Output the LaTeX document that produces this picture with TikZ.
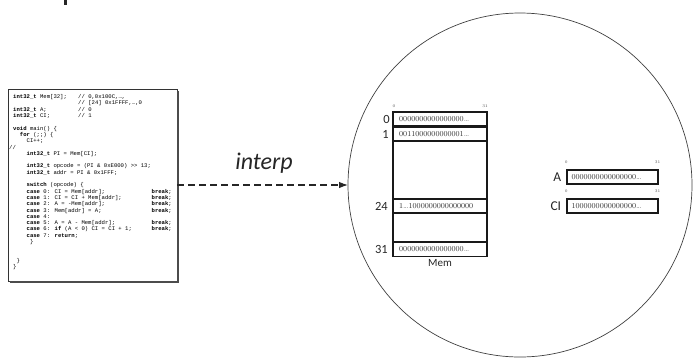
\documentclass[tikz,border=0pt]{standalone}
\usepackage{fontspec}
\newfontfamily\calib{Carlito}
\newfontfamily\codefont{Liberation Mono}
\usetikzlibrary{arrows.meta}
% listing helpers: keywords, comment column, break column
\newcommand\kw[1]{\textbf{#1}}
\newcommand\cm[2]{\makebox[65pt][l]{#1}#2}
\newcommand\bk[1]{\makebox[125pt][l]{#1}\kw{break};}
\begin{document}
\begin{tikzpicture}[x=1pt,y=-1pt,
  codeline/.style={anchor=base west, inner sep=0pt, text=black,
    font=\codefont\fontsize{5.6}{6.3}\selectfont},
  cell/.style={draw=black!90, line width=1.1pt, minimum width=94pt, inner sep=0pt, outer sep=0pt},
  reg/.style={draw=black!90, line width=1.4pt, minimum width=91pt, minimum height=14pt, inner sep=0pt},
  bits/.style={anchor=west, inner sep=0pt, text=black!80, font=\fontsize{7.6}{8}\selectfont},
  idx/.style={anchor=east, inner sep=0pt, text=black!85, font=\calib\fontsize{12.5}{13}\selectfont},
  tick/.style={inner sep=0pt, text=black!70, font=\fontsize{4}{4}\selectfont},
  flow/.style={dash pattern=on 7pt off 4pt, line width=1.1pt, -{Latex[length=9pt,width=6.5pt]}}
]
\useasboundingbox (0,0) rectangle (693,360);

% a fragment at the top edge
\fill[black!85] (63.5,0) rectangle (66.5,4.5);

% ---------- source listing ----------
\node[draw=black!80, line width=0.8pt, minimum width=169pt, minimum height=192pt,
      inner sep=0pt, outer sep=0pt] (codebox) at (92.5,185) {};
\draw[line width=1.4pt, black!70]
  ([shift={(1,2)}]codebox.north east) -- ([shift={(1,1)}]codebox.south east)
  -- ([shift={(2,1)}]codebox.south west);

\foreach \n/\t in {
  0/{\cm{\kw{int32\_t} Mem[32];}{// 0,0x100C,\ldots,}},
  1/{\cm{}{// [24] 0x1FFFF,\ldots,0}},
  2/{\cm{\kw{int32\_t} A;}{// 0}},
  3/{\cm{\kw{int32\_t} CI;}{// 1}},
  5/{\kw{void} main() \{},
  6/{~~\kw{for} (;;) \{},
  7/{~~~~CI++;},
  8/{\hspace*{-4pt}//},
  9/{~~~~\kw{int32\_t} PI = Mem[CI];},
  11/{~~~~\kw{int32\_t} opcode = (PI \& 0xE000) >> 13;},
  12/{~~~~\kw{int32\_t} addr = PI \& 0x1FFF;},
  14/{~~~~\kw{switch} (opcode) \{},
  15/{~~~~\bk{\kw{case} 0: CI = Mem[addr];}},
  16/{~~~~\bk{\kw{case} 1: CI = CI + Mem[addr];}},
  17/{~~~~\bk{\kw{case} 2: A = -Mem[addr];}},
  18/{~~~~\bk{\kw{case} 3: Mem[addr] = A;}},
  19/{~~~~\kw{case} 4:},
  20/{~~~~\bk{\kw{case} 5: A = A - Mem[addr];}},
  21/{~~~~\bk{\kw{case} 6: \kw{if} (A < 0) CI = CI + 1;}},
  22/{~~~~\kw{case} 7: \kw{return};},
  23/{~~~~~\}},
  26/{~\}},
  27/{\}}}
  \node[codeline] (line\n) at (13, 98.6+6.3*\n) {\t};

% ---------- machine state ----------
\node[draw=black!75, line width=0.7pt, circle, minimum size=344pt,
      inner sep=0pt, outer sep=0pt] (world) at (520,185) {};

% memory store
\node[cell, minimum height=14pt] (m0)  at (440,119)   {};
\node[cell, minimum height=14pt] (m1)  at (440,134)   {};
\node[cell, minimum height=58pt] (gapA) at (440,170)  {};
\node[cell, minimum height=14pt] (m24) at (440,206)   {};
\node[cell, minimum height=29pt] (gapB) at (440,227.5){};
\node[cell, minimum height=14pt] (m31) at (440,249.5) {};

\node[bits] (m0v)  at ([xshift=6pt]m0.west)  {0000000000000000\ldots};
\node[bits] (m1v)  at ([xshift=6pt]m1.west)  {0011000000000001\ldots};
\node[bits] (m24v) at ([xshift=6pt]m24.west) {1\ldots1000000000000000};
\node[bits] (m31v) at ([xshift=6pt]m31.west) {0000000000000000\ldots};

\node[idx] (i0)  at ([xshift=-3pt]m0.west)  {0};
\node[idx] (i1)  at ([xshift=-4pt]m1.west)  {1};
\node[idx] (i24) at ([xshift=-5pt]m24.west) {24};
\node[idx] (i31) at ([xshift=-5pt]m31.west) {31};

\node[tick] (mlo) at ([shift={(1,-6)}]m0.north west) {0};
\node[tick] (mhi) at ([shift={(-2,-6)}]m0.north east) {31};

\node[inner sep=0pt, text=black!85, font=\calib\fontsize{11}{12}\selectfont]
  (memlbl) at (440,263) {Mem};

% registers
\node[reg] (regA)  at (612.5,177) {};
\node[reg] (regCI) at (612.5,206) {};
\node[bits] (av)  at ([xshift=5pt]regA.west)  {0000000000000000\ldots};
\node[bits] (civ) at ([xshift=5pt]regCI.west) {1000000000000000\ldots};
\node[idx, font=\calib\fontsize{13.5}{14}\selectfont] (alab)  at ([xshift=-5pt]regA.west)  {A};
\node[idx, font=\calib\fontsize{13.5}{14}\selectfont] (cilab) at ([xshift=-5pt]regCI.west) {CI};
\node[tick] (alo)  at ([shift={(0,-7)}]regA.north west)  {0};
\node[tick] (ahi)  at ([shift={(-1,-7)}]regA.north east) {31};
\node[tick] (cilo) at ([shift={(0,-7)}]regCI.north west)  {0};
\node[tick] (cihi) at ([shift={(-1,-7)}]regCI.north east) {31};

% interpretation arrow
\draw[flow, black!85] (codebox.east) -- (world.west);
\node[inner sep=0pt, text=black!85, font=\calib\itshape\fontsize{24}{25}\selectfont]
  (interp) at (264,163) {interp};
\end{tikzpicture}
\end{document}
